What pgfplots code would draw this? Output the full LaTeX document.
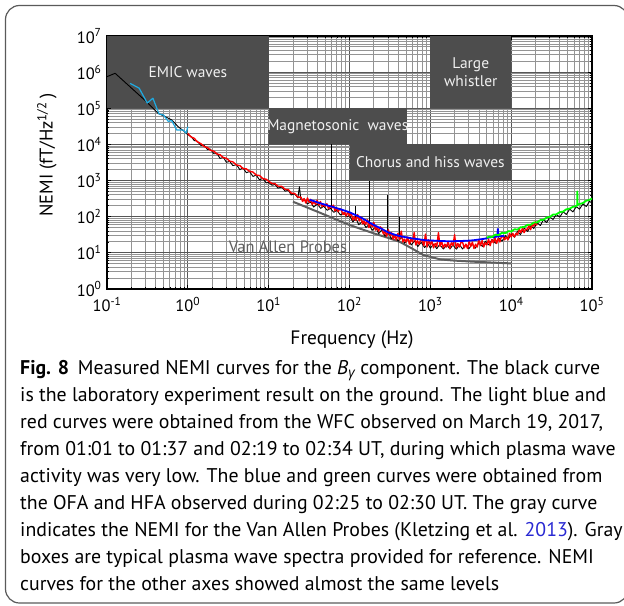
\documentclass[border=0pt]{standalone}
\usepackage{fontspec}
\setmainfont{PT Sans}
\newfontfamily\grk{Open Sans}
\usepackage{pgfplots}
\pgfplotsset{compat=1.18}
\usepackage{pgfplotstable}

\definecolor{boxgray}{RGB}{77,77,77}
\definecolor{boxtext}{RGB}{240,240,240}
\definecolor{lightblue}{RGB}{30,170,225}
\definecolor{vapgray}{RGB}{95,95,95}
\definecolor{linkblue}{RGB}{40,40,210}
\definecolor{framegray}{RGB}{90,90,90}

% laboratory result (black)
\pgfplotstableread{
f v
0.1 750000
0.126 930000
0.31 150000
0.43 72000
0.5 62000
0.63 48000
0.76 31000
0.9 23000
1 18600
1.1 16500
1.2 12800
1.3 12400
1.45 9400
1.6 9300
1.75 7200
1.9 7400
2.1 5500
2.3 5600
2.5 4100
2.75 4400
3 3200
3.3 3400
3.6 2600
4 2750
4.4 2000
4.8 2250
5.3 1650
5.8 1780
6.4 1300
7 1420
7.7 1050
8.5 1150
9.3 860
10 900
11 740
12 780
13 620
14.5 660
16 510
17.5 540
19 400
21 430
23 330
24 680
25 300
27.5 310
30 225
33 255
36 185
40 225
44 170
48 195
53 150
58 170
64 132
70 150
77 112
85 128
93 98
100 110
110 72
120 90
130 60
145 74
160 50
175 62
190 42
210 52
230 34
250 43
275 29
300 36
330 24.5
360 31
400 21
440 27
480 18.5
530 24
580 16.5
640 21.5
700 15
770 19.5
850 14
930 18
1000 13.5
1100 17.5
1200 13
1300 17
1450 12.8
1600 16.5
1750 12.8
1900 16.5
2100 12.6
2300 16.8
2500 12.8
2750 17
3000 13
3300 17.5
3600 13.5
4000 19
4400 15
4800 21
5300 16.5
5800 23.5
6400 18.5
7000 26
7700 21
8500 30
9300 24.5
10000 33
11000 27
12000 40
13000 32
14500 48
16000 39
17500 57
19000 47
21000 68
23000 57
25000 82
27500 69
30000 98
33000 84
36000 115
40000 98
44000 138
48000 115
53000 162
58000 136
64000 190
70000 162
77000 225
85000 192
93000 265
100000 240
}\labdata

% WFC (red)
\pgfplotstableread{
f v
1 20000
1.1 16000
1.2 14800
1.3 12000
1.45 10500
1.6 8700
1.75 8200
1.9 6900
2.1 6500
2.3 5400
2.5 5200
2.75 4300
3 4150
3.3 3450
3.6 3300
4 2700
4.4 2600
4.8 2150
5.3 2100
5.8 1800
6.4 1720
7 1420
7.7 1380
8.5 1130
9.3 1090
10 955
11 830
12 820
13 700
14.5 690
16 570
17.5 560
19 450
21 440
23 350
25.1 347
26.3 263
27.5 316
28.8 240
30.2 331
31.6 251
33.1 302
34.7 219
36.3 263
38.0 219
39.8 288
41.7 209
43.7 263
45.7 191
47.9 219
50.1 191
52.5 229
55.0 166
57.5 200
60.3 174
63.1 209
66.1 145
69.2 174
72.4 138
75.9 166
79.4 151
83.2 115
87.1 132
91.2 105
95.5 138
100 105
105 126
110 81.3
115 100
120 79.4
126 115
132 75.9
138 100
145 63.1
151 75.9
158 60.3
166 83.2
174 50.1
182 66.1
191 52.5
200 69.2
209 42.7
219 52.5
229 39.8
240 52.5
251 47.9
263 33.1
275 39.8
288 28.8
302 43.7
316 30.2
331 36.3
347 24.0
363 30.2
380 22.9
398 34.7
417 22.9
437 40.0
457 19.95
479 24.0
501 19.95
525 27.5
550 17.4
575 24.0
603 19.95
631 36.3
661 16.6
692 21.9
724 17.4
759 22.9
794 21.9
832 15.8
871 33.1
912 14.5
955 22.9
1000 16.6
1047 20.9
1096 13.8
1148 18.2
1202 15.1
1259 36.3
1318 15.1
1380 20.9
1445 13.8
1514 17.4
1585 14.5
1660 20.9
1738 13.2
1820 19.05
1905 15.8
1995 31.6
2089 13.8
2188 18.2
2291 14.5
2399 19.95
2512 19.05
2630 13.8
2754 17.4
2884 13.2
3020 20.9
3162 15.1
3311 19.95
3467 13.2
3631 17.4
3802 14.5
3981 22.9
4169 15.8
4365 21.9
4571 14.5
4786 19.05
5012 16.6
5248 24.0
5495 15.8
5754 22.9
6026 19.05
6310 26.3
6607 18.2
6918 25.1
7244 19.95
7586 28.8
7943 27.5
8318 22.9
8710 27.5
9120 22.9
9550 34.7
10000 27.5
10470 34.7
10960 27.5
11480 34.7
12020 31.6
12590 45.7
13180 36.3
13800 47.9
14450 36.3
15140 45.7
15850 43.7
16600 57.5
17380 43.7
18200 60.3
19050 55.0
19950 72.4
20890 57.5
}\wfcdata

% WFC low frequency (light blue)
\pgfplotstableread{
f v
0.193 490000
0.25 360000
0.315 140000
0.37 190000
0.44 70000
0.5 65000
0.575 43000
0.63 46000
0.73 25000
0.88 25000
0.95 20500
1.0 31000
}\wfclowdata

% OFA (blue)
\pgfplotstableread{
f v
32 295
36 272
40 250
45 230
50 215
56 198
63 186
71 170
80 157
90 144
100 133
112 118
125 106
140 94
160 79
180 67
200 59
220 53
260 44
300 37
360 32
420 29
500 27
600 25
700 24
850 22.5
1000 22
1300 21.4
1700 20.9
2200 21.2
2800 21.6
3400 22.3
4000 23.4
4700 24.6
5300 26.5
6000 27.5
6700 28
6850 46
7000 28.5
7600 29
8200 29.5
}\ofadata

% HFA (green)
\pgfplotstableread{
f v
5000 26
5300 28
5800 27.5
6400 32
7000 31
7700 36
8500 35
9300 40
10000 39
11000 45
12000 44
13000 51
14500 52
16000 60
17500 60
19000 69
21000 70
23000 81
25000 82
27500 95
30000 98
33000 115
36000 116
40000 134
44000 139
48000 160
53000 168
58000 188
64000 198
65500 205
65800 500
66200 212
70000 225
77000 238
85000 278
93000 292
100000 320
}\hfadata

% Van Allen Probes (gray)
\pgfplotstableread{
f v
20 260
40 138
100 59
197 35
300 26
422 20
600 13
820 8.7
1320 6.6
2000 6.1
3400 5.7
10000 5.1
}\vapdata

\begin{document}
\begin{tikzpicture}[x=1bp,y=1bp]
\useasboundingbox (0,0) rectangle (624,-606);
\draw[line width=1.2bp, draw=framegray, rounded corners=14bp] (5.5,-5.5) rectangle (628,-603);

\begin{axis}[
    at={(107bp,-289bp)}, anchor=south west,
    scale only axis, width=485bp, height=253bp,
    xmode=log, ymode=log,
    xmin=0.1, xmax=1e5, ymin=1, ymax=1e7,
    xtick={0.1,1,10,100,1000,10000,100000},
    xticklabels={10\textsuperscript{-1},10\textsuperscript{0},10\textsuperscript{1},10\textsuperscript{2},10\textsuperscript{3},10\textsuperscript{4},10\textsuperscript{5}},
    ytick={1,10,100,1000,10000,100000,1e6,1e7},
    yticklabels={10\textsuperscript{0},10\textsuperscript{1},10\textsuperscript{2},10\textsuperscript{3},10\textsuperscript{4},10\textsuperscript{5},10\textsuperscript{6},10\textsuperscript{7}},
    minor xtick={0.2,0.3,0.4,0.5,0.6,0.7,0.8,0.9,2,3,4,5,6,7,8,9,20,30,40,50,60,70,80,90,200,300,400,500,600,700,800,900,2000,3000,4000,5000,6000,7000,8000,9000,20000,30000,40000,50000,60000,70000,80000,90000},
    minor ytick={2,3,4,5,6,7,8,9,20,30,40,50,60,70,80,90,200,300,400,500,600,700,800,900,2000,3000,4000,5000,6000,7000,8000,9000,2e4,3e4,4e4,5e4,6e4,7e4,8e4,9e4,2e5,3e5,4e5,5e5,6e5,7e5,8e5,9e5,2e6,3e6,4e6,5e6,6e6,7e6,8e6,9e6},
    grid=both,
    major grid style={line width=1bp, draw=black!66},
    minor grid style={line width=1bp, draw=black!42},
    axis line style={line width=1.4bp, black},
    tick style={black, line width=0.8bp},
    major tick length=4bp, minor tick length=2.5bp,
    ticklabel style={font=\fontsize{16.5}{19}\selectfont},
    xticklabel style={yshift=-5bp},
    yticklabel style={xshift=-2bp},
]
% plasma wave boxes
\fill[boxgray] (axis cs:0.1,1e5) rectangle (axis cs:10,1e7);
\fill[boxgray] (axis cs:10,1e4) rectangle (axis cs:510,1e5);
\fill[boxgray] (axis cs:100,1e3) rectangle (axis cs:1e4,1e4);
\fill[boxgray] (axis cs:1e3,1e5) rectangle (axis cs:1e4,1e7);

\node[boxtext, font=\fontsize{15.5}{18.5}\selectfont] at (axis cs:1,1e6) {EMIC waves};
\node[boxtext, font=\fontsize{15.5}{18.5}\selectfont] at (axis cs:71.6,3.16e4) {Magnetosonic\ \ waves};
\node[boxtext, font=\fontsize{15.5}{18.5}\selectfont] at (axis cs:1000,3162) {Chorus and hiss waves};
\node[boxtext, font=\fontsize{15.5}{18.5}\selectfont, align=center] at (axis cs:3162,1e6) {Large\\whistler};
\node[vapgray, font=\fontsize{16.5}{19}\selectfont] at (axis cs:17.3,14.5) {Van Allen Probes};

\addplot[vapgray, line width=2bp] table[x=f, y=v] {\vapdata};
\addplot[black, line width=0.9bp, line join=round] table[x=f, y=v] {\labdata};
% line-frequency spikes of the laboratory curve
\addplot[black, line width=1bp] coordinates {(60,150) (60,10000)};
\addplot[black, line width=1bp] coordinates {(120,85) (120,195)};
\addplot[black, line width=1bp] coordinates {(178,60) (178,1000)};
\addplot[black, line width=1bp] coordinates {(295,35) (295,410)};
\addplot[black, line width=1bp] coordinates {(420,26) (420,100)};
\addplot[red, line width=1.4bp, line join=round] table[x=f, y=v] {\wfcdata};
\addplot[lightblue, line width=1.2bp, line join=round] table[x=f, y=v] {\wfclowdata};
\addplot[blue, line width=1.8bp, line join=round] table[x=f, y=v] {\ofadata};
\addplot[green, line width=1.8bp, line join=round] table[x=f, y=v] {\hfadata};
\end{axis}

\node[font=\fontsize{19.5}{23}\selectfont] at (352,-340) {Frequency (Hz)};
\node[font=\fontsize{18.5}{22}\selectfont, rotate=90] at (47,-155) {NEMI (fT/Hz\textsuperscript{1/2}\hspace{0.2em})};

\begin{scope}[font=\fontsize{19.9}{24}\selectfont]
\node[anchor=base west, inner sep=0pt] at (20,-374) {\textbf{Fig. 8}\hspace{0.45em}Measured NEMI curves for the \textit{B}\textsubscript{\grk\itshape γ} component. The black curve};
\node[anchor=base west, inner sep=0pt] at (20,-401.1) {is the laboratory experiment result on the ground. The light blue and};
\node[anchor=base west, inner sep=0pt] at (20,-428.2) {red curves were obtained from the WFC observed on March 19, 2017,};
\node[anchor=base west, inner sep=0pt] at (20,-455.3) {from 01:01 to 01:37 and 02:19 to 02:34 UT, during which plasma wave};
\node[anchor=base west, inner sep=0pt] at (20,-482.4) {activity was very low. The blue and green curves were obtained from};
\node[anchor=base west, inner sep=0pt] at (20,-509.5) {the OFA and HFA observed during 02:25 to 02:30 UT. The gray curve};
\node[anchor=base west, inner sep=0pt] at (20,-536.6) {indicates the NEMI for the Van Allen Probes (Kletzing et al. \textcolor{linkblue}{2013}). Gray};
\node[anchor=base west, inner sep=0pt] at (20,-563.7) {boxes are typical plasma wave spectra provided for reference. NEMI};
\node[anchor=base west, inner sep=0pt] at (20,-590.8) {curves for the other axes showed almost the same levels};
\end{scope}
\end{tikzpicture}
\end{document}
